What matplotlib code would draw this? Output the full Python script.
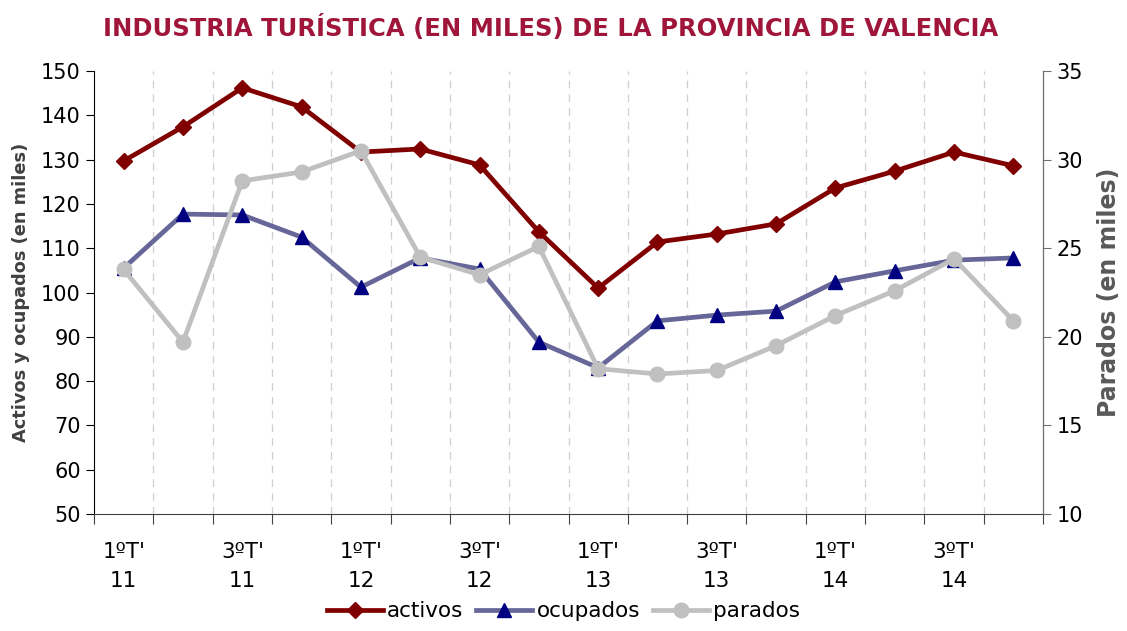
import numpy as np
import matplotlib
matplotlib.use("Agg")
import matplotlib.pyplot as plt
from matplotlib.ticker import FixedLocator

# Data (miles de personas), 1T 2011 .. 4T 2014
quarters = ["1ºT'\n11", "", "3ºT'\n11", "", "1ºT'\n12", "", "3ºT'\n12", "",
            "1ºT'\n13", "", "3ºT'\n13", "", "1ºT'\n14", "", "3ºT'\n14", ""]
activos = [129.7, 137.4, 146.2, 141.9, 131.7, 132.4, 128.8, 113.7,
           101.0, 111.4, 113.2, 115.5, 123.6, 127.4, 131.7, 128.6]
ocupados = [105.5, 117.7, 117.5, 112.5, 101.2, 107.8, 105.3, 88.8,
            83.0, 93.6, 94.9, 95.8, 102.4, 104.9, 107.3, 107.8]
parados = [23.8, 19.7, 28.8, 29.3, 30.5, 24.5, 23.5, 25.1,
           18.2, 17.9, 18.1, 19.5, 21.2, 22.6, 24.4, 20.9]

plt.rcParams['font.family'] = ['DejaVu Sans']

fig = plt.figure(figsize=(11.27, 6.31), dpi=100)
ax = fig.add_axes([0.0834, 0.1854, 0.8421, 0.7021])
ax2 = ax.twinx()

x = np.arange(len(activos))

l1, = ax.plot(x, activos, color='#800000', lw=3.4, marker='D', ms=8,
              mfc='#800000', mec='#800000', label='activos')
l2, = ax.plot(x, ocupados, color='#666699', lw=3.4, marker='^', ms=10.5,
              mfc='#000080', mec='#000080', label='ocupados')
l3, = ax2.plot(x, parados, color='#C0C0C0', lw=3.4, marker='o', ms=10.5,
               mfc='#C0C0C0', mec='#C0C0C0', label='parados')

ax.set_xlim(-0.5, 15.5)
ax.set_ylim(50, 150)
ax2.set_ylim(10, 35)
ax.set_yticks(np.arange(50, 151, 10))
ax2.set_yticks(np.arange(10, 36, 5))

# ticks at category boundaries, labels at centres
ax.xaxis.set_major_locator(FixedLocator(np.arange(-0.5, 16, 1)))
ax.xaxis.set_minor_locator(FixedLocator(x))
ax.set_xticklabels([])
ax.set_xticklabels(quarters, minor=True, linespacing=1.55)
ax.tick_params(axis='x', which='major', length=7, color='#404040')
ax.tick_params(axis='x', which='minor', length=0, pad=20, labelsize=15.5)
ax.tick_params(axis='y', length=6, labelsize=15)
ax2.tick_params(axis='y', length=6, labelsize=15, color='#707070')

# dashed vertical grid between categories
for b in np.arange(0.5, 15, 1):
    ax.axvline(b, color='#CFCFCF', lw=0.9, ls=(0, (6, 5)), zorder=0)

for side in ['top']:
    ax.spines[side].set_visible(False)
    ax2.spines[side].set_visible(False)
ax.spines['bottom'].set_color('#404040')
ax2.spines['right'].set_color('#707070')
ax2.spines['left'].set_visible(False)
ax2.spines['bottom'].set_visible(False)

ax.set_ylabel('Activos y ocupados (en miles)', fontsize=12.8, fontweight='bold',
              color='#404040', labelpad=8)
ax2.set_ylabel('Parados (en miles)', fontsize=17, fontweight='bold',
               color='#595959', labelpad=10)

fig.suptitle('INDUSTRIA TURÍSTICA (EN MILES) DE LA PROVINCIA DE VALENCIA',
             x=0.489, y=0.977, fontsize=17.5, fontweight='bold', color='#A0163B')

fig.legend(handles=[l1, l2, l3], loc='lower center', ncol=3, frameon=False,
           bbox_to_anchor=(0.5, -0.015), fontsize=15.5, handlelength=2.6,
           handletextpad=0.2, columnspacing=0.6)

fig.savefig('out.png', dpi=100)
